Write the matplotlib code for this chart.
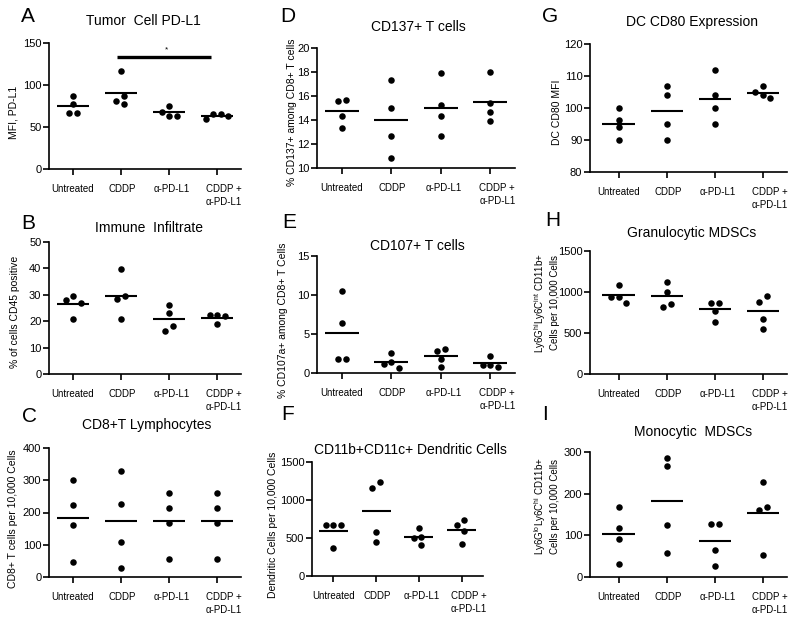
import numpy as np
import matplotlib
matplotlib.use("Agg")
import matplotlib.pyplot as plt
from matplotlib.transforms import ScaledTranslation

plt.rcParams['font.family'] = ['Liberation Sans', 'DejaVu Sans']
plt.rcParams['mathtext.fontset'] = 'custom'
plt.rcParams['mathtext.rm'] = 'Liberation Sans'
plt.rcParams['mathtext.it'] = 'Liberation Sans:italic'

# ---------------- data ----------------
groups = ["Untreated", "CDDP", "α-PD-L1", "CDDP +\nα-PD-L1"]

tumor_pdl1 = [[87, 77, 67, 67], [117, 86.5, 81, 77], [75.5, 68, 63, 63], [65.5, 65.5, 62.7, 59.5]]
cd45_pct = [[29.5, 28, 27, 21], [39.7, 29.7, 28.5, 21], [26.1, 23, 18.1, 16.1], [22.5, 22.3, 21.8, 18.8]]
cd8_cells = [[302, 223, 161, 46], [329, 225, 107, 29], [260, 213, 166, 57], [260, 213, 166, 57]]
cd137_pct = [[15.7, 15.6, 14.3, 13.3], [17.35, 14.97, 12.68, 10.87], [17.9, 15.25, 14.36, 12.65], [17.96, 15.39, 14.69, 13.88]]
cd107_pct = [[10.46, 6.43, 1.84, 1.76], [2.57, 1.41, 1.2, 0.64], [3.13, 2.83, 1.76, 0.77], [2.23, 1.07, 0.99, 0.81]]
dc_cells = [[668, 668, 668, 367], [1243, 1155, 584, 442], [628, 509, 496, 407], [739, 673, 593, 420]]
dc_cd80 = [[100, 96.4, 94, 90], [107, 104, 95, 90], [112, 104, 100, 95], [107, 105, 104, 103]]
gran_mdsc = [[1082, 944, 944, 871], [1127, 1005, 851, 823], [871, 871, 774, 640], [953, 884, 673, 547]]
mono_mdsc = [[168, 118, 91, 32], [285, 266, 126, 57], [127, 127, 64, 27], [227, 169, 160, 54]]

titles = ["Tumor  Cell PD-L1", "Immune  Infiltrate", "CD8+T Lymphocytes",
          "CD137+ T cells", "CD107+ T cells", "CD11b+CD11c+ Dendritic Cells",
          "DC CD80 Expression", "Granulocytic MDSCs", "Monocytic  MDSCs"]
letters = ["A", "B", "C", "D", "E", "F", "G", "H", "I"]
ylabels = ["MFI, PD-L1", "% of cells CD45 positive", "CD8+ T cells per 10,000 Cells",
           "% CD137+ among CD8+ T cells", "% CD107a+ among CD8+ T Cells",
           "Dendritic Cells per 10,000 Cells", "DC CD80 MFI",
           "Ly6G$^{\\mathregular{hi}}$Ly6C$^{\\mathregular{int}}$ CD11b+\nCells per 10,000 Cells",
           "Ly6G$^{\\mathregular{lo}}$Ly6C$^{\\mathregular{hi}}$ CD11b+\nCells per 10,000 Cells"]
ylims = [(0, 150), (0, 50), (0, 400), (10, 20), (0, 15), (0, 1500), (80, 120), (0, 1500), (0, 300)]
ysteps = [50, 10, 100, 2, 5, 500, 10, 500, 100]
datasets = [tumor_pdl1, cd45_pct, cd8_cells, cd137_pct, cd107_pct, dc_cells, dc_cd80, gran_mdsc, mono_mdsc]
sig_label = "*"
sig_level = 133

# ---------------- layout (pixels) ----------------
W, H = 800, 622
# left, top, width, bottom
boxes = [(49, 43, 192, 169), (49, 242, 192, 374), (49, 448, 192, 577),
         (317, 48, 198, 168), (317, 256, 198, 373), (312, 462, 171, 576),
         (590, 44, 197, 172), (590, 251, 197, 374), (590, 452, 197, 577)]
xleft = [-0.5, -0.5, -0.5, -0.5, -0.5, -0.5, -0.6, -0.6, -0.6]
title_pos = [(143, 21), (149, 228), (147, 425), (418, 27), (417, 246), (410, 450),
             (692, 22), (692, 233), (693, 432)]
letter_pos = [(21, 17), (21, 223), (22, 417), (280, 17), (282, 222), (281, 415),
              (542, 17), (545, 221), (542, 415)]
ylabel_pos = [(14, 112), (15, 312), (13, 519), (292, 112), (283, 320), (273, 525),
              (557, 112), (546, 303), (546, 506)]
ylabel_size = [7.5, 7.5, 7.5, 7.5, 7.5, 7.5, 7.5, 7, 7]

fig = plt.figure(figsize=(W / 100, H / 100), dpi=100)


def swarm(vals, ypx, xpx, d=7.5, step=7.5):
    v = np.asarray(vals, float)
    py = v * ypx
    offs = np.zeros(len(v))
    placed = []
    cands = [0.0]
    for k in range(1, 8):
        cands += [-k * step, k * step]
    for i in np.argsort(-v, kind="stable"):
        for c in cands:
            if all((c - offs[j]) ** 2 + (py[i] - py[j]) ** 2 >= d * d - 1e-9 for j in placed):
                offs[i] = c
                break
        placed.append(i)
    n = len(v)
    parent = list(range(n))

    def find(a):
        while parent[a] != a:
            a = parent[a]
        return a
    for a in range(n):
        for b in range(a + 1, n):
            if abs(py[a] - py[b]) < d:
                parent[find(a)] = find(b)
    roots = [find(a) for a in range(n)]
    for r in set(roots):
        idx = [a for a in range(n) if roots[a] == r]
        offs[idx] -= offs[idx].mean()
    return offs / xpx


label_shift = [0, 1, 3, 7]

for k in range(9):
    left, top, width, bottom = boxes[k]
    ax = fig.add_axes([left / W, 1 - bottom / H, width / W, (bottom - top) / H])
    y0, y1 = ylims[k]
    ax.set_xlim(xleft[k], 3.5)
    ax.set_ylim(y0, y1)
    for s in ("top", "right"):
        ax.spines[s].set_visible(False)
    for s in ("left", "bottom"):
        ax.spines[s].set_linewidth(1.2)
    ax.set_yticks(np.arange(y0, y1 + 1e-9, ysteps[k]))
    ax.set_xticks(range(4))
    ax.set_xticklabels(groups, linespacing=1.35)
    ax.tick_params(axis="y", length=4, width=1.2, labelsize=8, pad=1.5)
    ax.tick_params(axis="x", length=4, width=1.2, labelsize=7, pad=7)
    for lbl, dx in zip(ax.get_xticklabels(), label_shift):
        lbl.set_transform(lbl.get_transform() + ScaledTranslation(dx / 100, 0, fig.dpi_scale_trans))

    ypx = (bottom - top) / (y1 - y0)
    xpx = width / (3.5 - xleft[k])
    for i, vals in enumerate(datasets[k]):
        offs = swarm(vals, ypx, xpx)
        ax.scatter(i + offs, vals, s=22, color="black", linewidths=0, zorder=3, clip_on=False)
        m = np.mean(vals)
        ax.plot([i - 0.34, i + 0.34], [m, m], color="black", lw=1.5, solid_capstyle="butt", zorder=2)

    if k == 0:
        ax.plot([0.92, 2.88], [sig_level, sig_level], color="black", lw=2.4, solid_capstyle="butt")
        ax.text(1.94, sig_level + 9, sig_label, fontsize=6, ha="center", va="center")

    tx, ty = title_pos[k]
    fig.text(tx / W, 1 - ty / H, titles[k], fontsize=10, ha="center", va="center")
    lx, ly = letter_pos[k]
    fig.text(lx / W, 1 - ly / H, letters[k], fontsize=15, ha="left", va="center")
    yx, yy = ylabel_pos[k]
    fig.text(yx / W, 1 - yy / H, ylabels[k], fontsize=ylabel_size[k], rotation=90, ha="center", va="center",
             linespacing=1.2, multialignment="center")

fig.savefig("out.png", dpi=100)
